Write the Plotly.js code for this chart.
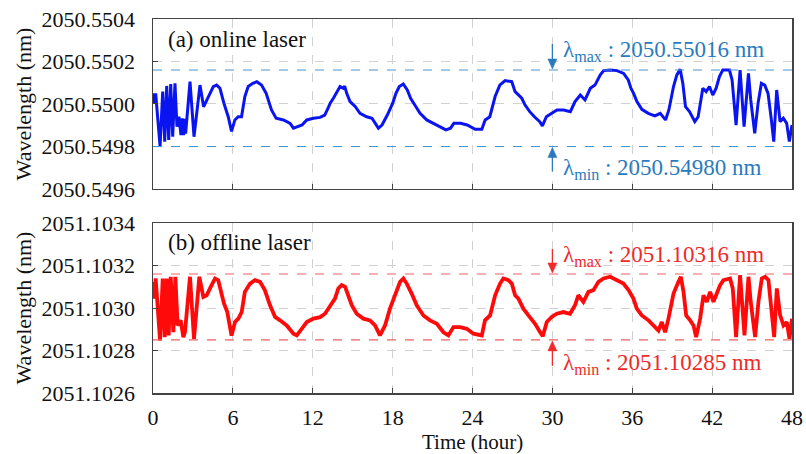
<!DOCTYPE html>
<html>
<head>
<meta charset="utf-8">
<script src="https://cdn.plot.ly/plotly-3.0.1.min.js"></script>
<style>html,body{margin:0;padding:0;background:#fff;font-family:"Liberation Serif","Times New Roman","DejaVu Serif",serif;}#chart{width:806px;height:454px;}</style>
</head>
<body>
<div id="chart"></div>
<script>
// ---- data ----
const onlineTime = [0.0,0.1,0.2,0.53,0.73,0.88,1.03,1.18,1.33,1.48,1.65,1.8,1.95,2.1,2.2,2.3,2.4,2.45,2.78,3.08,3.53,3.8,4.05,4.28,4.53,4.78,5.03,5.33,5.65,5.9,6.15,6.4,6.65,6.9,7.15,7.5,7.8,8.15,8.5,8.9,9.25,9.8,10.3,10.55,10.9,11.2,11.55,12.05,12.55,12.9,13.15,13.3,13.55,13.8,14.05,14.3,14.4,14.55,14.8,15.2,15.55,16.05,16.45,16.7,16.93,17.2,17.6,18.0,18.25,18.5,18.8,19.1,19.35,19.75,20.06,20.56,21.06,21.6,22.0,22.35,22.6,23.1,23.6,24.2,24.7,24.95,25.3,25.7,26.05,26.45,26.95,27.2,27.45,27.7,27.95,28.3,28.65,29.05,29.25,29.55,29.95,30.35,30.85,31.35,31.7,32.1,32.45,32.85,33.2,33.6,33.85,34.35,34.85,35.35,35.7,35.9,36.1,36.35,36.72,37.2,37.7,38.1,38.5,38.75,39.1,39.35,39.6,39.8,40.0,40.3,40.7,40.95,41.2,41.3,41.55,41.8,42.05,42.3,42.55,42.8,43.3,43.5,43.8,44.1,44.4,44.73,44.9,45.2,45.45,45.7,45.95,46.2,46.45,46.63,46.85,47.1,47.35,47.6,47.8,48.0];
const onlineWavelength = [2050.55005,2050.550003,2050.55005,2050.549802,2050.550058,2050.549823,2050.550085,2050.549831,2050.550094,2050.549846,2050.550097,2050.549893,2050.54994,2050.549854,2050.549932,2050.549854,2050.54993,2050.54986,2050.550105,2050.549846,2050.550089,2050.549987,2050.550019,2050.55005,2050.550082,2050.550089,2050.550074,2050.550003,2050.54994,2050.549871,2050.549925,2050.54994,2050.54994,2050.550035,2050.550082,2050.550097,2050.550105,2050.550089,2050.55005,2050.549972,2050.549933,2050.549925,2050.549909,2050.549886,2050.549893,2050.549901,2050.549925,2050.549933,2050.549937,2050.549948,2050.54998,2050.550003,2050.550027,2050.550058,2050.550082,2050.550074,2050.550084,2050.55005,2050.550011,2050.549987,2050.549956,2050.54994,2050.549933,2050.549909,2050.549886,2050.549901,2050.549948,2050.550003,2050.55005,2050.550082,2050.550094,2050.550066,2050.550027,2050.549987,2050.549956,2050.549925,2050.549909,2050.549893,2050.549878,2050.549886,2050.549909,2050.549909,2050.549901,2050.549881,2050.549881,2050.549925,2050.54994,2050.550035,2050.550089,2050.55011,2050.550105,2050.550058,2050.550042,2050.550027,2050.549995,2050.549964,2050.54994,2050.549917,2050.549897,2050.54994,2050.549956,2050.549972,2050.549972,2050.549964,2050.550011,2050.550042,2050.550019,2050.550074,2050.550089,2050.550137,2050.550157,2050.55016,2050.550157,2050.550144,2050.550113,2050.550074,2050.55005,2050.550011,2050.549975,2050.549956,2050.549944,2050.549956,2050.549925,2050.549972,2050.550082,2050.550137,2050.550163,2050.550097,2050.549987,2050.549964,2050.549917,2050.54994,2050.550035,2050.550074,2050.550058,2050.550082,2050.550042,2050.550074,2050.550129,2050.55016,2050.55016,2050.550113,2050.549901,2050.55016,2050.549893,2050.550144,2050.550019,2050.549862,2050.550003,2050.550097,2050.550089,2050.55005,2050.549925,2050.549823,2050.550066,2050.549917,2050.549933,2050.549909,2050.549823,2050.549901];

const offlineTime = [0.0,0.1,0.2,0.53,0.73,0.88,1.03,1.18,1.33,1.53,1.68,1.85,2.08,2.28,2.4,2.78,3.08,3.48,3.78,4.03,4.28,4.66,4.9,5.16,5.33,5.58,5.9,6.16,6.41,6.66,6.9,7.29,7.66,8.04,8.4,8.79,9.17,9.54,10.04,10.55,10.8,11.17,11.55,12.05,12.55,12.92,13.3,13.67,13.92,14.17,14.43,14.68,14.93,15.3,15.8,16.3,16.68,17.05,17.43,17.8,18.18,18.56,18.81,19.06,19.43,19.81,20.31,20.81,21.32,21.82,22.19,22.57,23.07,23.57,24.07,24.7,24.94,25.32,25.7,26.07,26.32,26.7,26.95,27.2,27.45,27.82,28.2,28.7,29.08,29.28,29.58,29.95,30.33,30.83,31.33,31.7,31.95,32.33,32.71,33.08,33.46,33.84,34.34,34.84,35.34,35.72,36.09,36.34,36.72,37.22,37.72,37.97,38.22,38.47,38.72,39.1,39.47,39.65,39.85,40.05,40.35,40.6,40.8,41.1,41.35,41.6,41.85,42.1,42.35,42.6,42.85,43.35,43.55,43.8,44.1,44.43,44.73,44.9,45.23,45.48,45.73,45.98,46.23,46.48,46.66,46.86,47.11,47.36,47.61,47.81,48.0];
const offlineWavelength = [2051.103123,2051.103044,2051.103139,2051.102847,2051.103139,2051.102863,2051.103139,2051.102871,2051.103147,2051.102886,2051.103147,2051.102918,2051.102942,2051.102863,2051.102886,2051.103147,2051.102855,2051.103147,2051.103052,2051.10306,2051.103092,2051.103139,2051.103131,2051.10306,2051.103021,2051.102981,2051.10287,2051.102934,2051.10295,2051.102981,2051.103076,2051.103115,2051.103131,2051.103123,2051.103084,2051.103013,2051.102958,2051.102942,2051.102918,2051.102879,2051.102871,2051.102902,2051.102934,2051.10295,2051.102957,2051.102973,2051.103013,2051.103044,2051.103092,2051.103108,2051.1031,2051.10306,2051.103013,2051.102973,2051.10295,2051.102942,2051.102918,2051.102871,2051.102918,2051.102997,2051.10306,2051.103123,2051.103139,2051.103115,2051.103068,2051.103013,2051.102965,2051.102942,2051.102926,2051.102886,2051.102871,2051.10291,2051.10291,2051.102902,2051.102879,2051.102871,2051.102942,2051.102965,2051.10306,2051.103115,2051.103139,2051.103131,2051.103115,2051.10306,2051.103044,2051.102997,2051.102965,2051.102926,2051.102886,2051.102867,2051.102934,2051.102958,2051.102973,2051.102981,2051.102973,2051.103013,2051.10306,2051.103029,2051.103076,2051.103084,2051.103123,2051.103139,2051.103147,2051.103131,2051.103115,2051.103084,2051.103044,2051.102997,2051.102965,2051.102942,2051.10291,2051.102894,2051.102934,2051.102886,2051.10295,2051.103068,2051.103123,2051.103147,2051.103076,2051.102965,2051.102942,2051.102918,2051.102863,2051.10295,2051.10306,2051.103029,2051.103076,2051.103029,2051.103068,2051.103108,2051.103131,2051.103139,2051.103092,2051.102863,2051.103155,2051.102871,2051.103147,2051.103029,2051.102863,2051.103029,2051.103139,2051.103147,2051.103131,2051.102997,2051.102863,2051.103092,2051.102965,2051.102918,2051.102934,2051.102855,2051.10295];

const onlineExtremes = [2050.55016, 2050.54980];   // [max, min]
const offlineExtremes = [2051.10316, 2051.10285];  // [max, min]
const onlineExtremeLabels = ['2050.55016', '2050.54980'];
const offlineExtremeLabels = ['2051.10316', '2051.10285'];

const timeTicks = [0, 6, 12, 18, 24, 30, 36, 42, 48];
const onlineTicks = [2050.5496, 2050.5498, 2050.5500, 2050.5502, 2050.5504];
const onlineTickLabels = ['2050.5496', '2050.5498', '2050.5500', '2050.5502', '2050.5504'];
const offlineTicks = [2051.1026, 2051.1028, 2051.1030, 2051.1032, 2051.1034];
const offlineTickLabels = ['2051.1026', '2051.1028', '2051.1030', '2051.1032', '2051.1034'];
const panelLabels = ['(a) online laser', '(b) offline laser'];
const xTitle = 'Time (hour)';
const yTitle = 'Wavelength (nm)';
const arrowTime = 30;

// ---- styling ----
const FONT = '"Liberation Serif", "Times New Roman", Times, "DejaVu Serif", serif';
const BLUE_LINE = '#0a14f0';
const BLUE_TXT = '#2a7bbd';
const BLUE_DASH = '#4a94cf';
const RED_LINE = '#ff0a0a';
const RED_TXT = '#ee2a2a';
const RED_DASH = '#f06060';
const FRAME = '#444444';
const GRID = '#d2d2d2';

const traces = [
  {x: onlineTime, y: onlineWavelength, xaxis: 'x2', yaxis: 'y', type: 'scatter', mode: 'lines',
   line: {color: BLUE_LINE, width: 3}, hoverinfo: 'skip'},
  {x: offlineTime, y: offlineWavelength, xaxis: 'x', yaxis: 'y2', type: 'scatter', mode: 'lines',
   line: {color: RED_LINE, width: 3.8}, hoverinfo: 'skip'}
];

const xCommon = {
  range: [0, 48], tickvals: timeTicks, ticktext: timeTicks.map(String),
  showline: true, linecolor: FRAME, linewidth: 1.5, mirror: true,
  ticks: 'inside', ticklen: 5, tickcolor: FRAME,
  showgrid: true, gridcolor: GRID, griddash: 'dash', gridwidth: 1,
  zeroline: false, fixedrange: true,
  tickfont: {family: FONT, size: 22, color: '#111'},
  ticklabelstandoff: 4
};
const yCommon = {
  showline: true, linecolor: FRAME, linewidth: 1.5, mirror: true,
  ticks: 'inside', ticklen: 5, tickcolor: FRAME,
  showgrid: true, gridcolor: GRID, griddash: 'dash', gridwidth: 1,
  zeroline: false, fixedrange: true,
  tickfont: {family: FONT, size: 22, color: '#111'},
  ticklabelstandoff: 12
};

function hline(xa, ya, yv, color) {
  return {type: 'line', xref: xa, yref: ya, x0: 0, x1: 48, y0: yv, y1: yv,
          line: {color: color, width: 1.2, dash: 'dash'}};
}
function arrowShapes(xa, ya, yv, dir, len, color) {
  const s = dir;
  return [
    {type: 'line', xref: xa, yref: ya, xsizemode: 'pixel', ysizemode: 'pixel',
     xanchor: arrowTime, yanchor: yv, x0: 0, x1: 0, y0: s * 8, y1: s * len,
     line: {color: color, width: 1.3}},
    {type: 'path', xref: xa, yref: ya, xsizemode: 'pixel', ysizemode: 'pixel',
     xanchor: arrowTime, yanchor: yv,
     path: 'M0,' + (s * 1) + ' L-4.5,' + (s * 11) + ' L4.5,' + (s * 11) + ' Z',
     fillcolor: color, line: {color: color, width: 0.5}}
  ];
}

const shapes = [
  hline('x2', 'y', onlineExtremes[0], BLUE_DASH),
  hline('x2', 'y', onlineExtremes[1], BLUE_DASH),
  hline('x', 'y2', offlineExtremes[0], RED_DASH),
  hline('x', 'y2', offlineExtremes[1], RED_DASH)
].concat(
  arrowShapes('x2', 'y', onlineExtremes[0], 1, 26, BLUE_TXT),
  arrowShapes('x2', 'y', onlineExtremes[1], -1, 25, BLUE_TXT),
  arrowShapes('x', 'y2', offlineExtremes[0], 1, 25, RED_TXT),
  arrowShapes('x', 'y2', offlineExtremes[1], -1, 26, RED_TXT)
);

function label(xa, ya, yv, sub, val, yshift, color) {
  return {xref: xa, yref: ya, x: arrowTime, y: yv, xanchor: 'left', yanchor: 'middle',
          xshift: 9, yshift: yshift, showarrow: false,
          text: 'λ<sub>' + sub + '</sub> : ' + val + ' nm',
          font: {family: FONT, size: 23, color: color}};
}

const annotations = [
  label('x2', 'y', onlineExtremes[0], 'max', onlineExtremeLabels[0], 19, BLUE_TXT),
  label('x2', 'y', onlineExtremes[1], 'min', onlineExtremeLabels[1], -23, BLUE_TXT),
  label('x', 'y2', offlineExtremes[0], 'max', offlineExtremeLabels[0], 18, RED_TXT),
  label('x', 'y2', offlineExtremes[1], 'min', offlineExtremeLabels[1], -24, RED_TXT),
  {xref: 'x2 domain', yref: 'y domain', x: 0.02, y: 0.88, xanchor: 'left', yanchor: 'middle',
   showarrow: false, text: panelLabels[0], font: {family: FONT, size: 23, color: '#111'}},
  {xref: 'x domain', yref: 'y2 domain', x: 0.02, y: 0.885, xanchor: 'left', yanchor: 'middle',
   showarrow: false, text: panelLabels[1], font: {family: FONT, size: 23, color: '#111'}},
  {xref: 'paper', yref: 'paper', x: 0.5, y: -0.131, xanchor: 'center', yanchor: 'middle',
   showarrow: false, text: xTitle, font: {family: FONT, size: 21, color: '#111'}}
];

const layout = {
  width: 806, height: 454,
  margin: {l: 153, r: 14, t: 19, b: 61},
  paper_bgcolor: '#fff', plot_bgcolor: '#fff',
  showlegend: false,
  font: {family: FONT, color: '#111'},
  xaxis: Object.assign({}, xCommon, {domain: [0, 1], anchor: 'y2'}),
  xaxis2: Object.assign({}, xCommon, {domain: [0, 1], anchor: 'y', showticklabels: false}),
  yaxis: Object.assign({}, yCommon, {domain: [0.5455, 1], anchor: 'x2', range: [2050.5496, 2050.5504],
    tickvals: onlineTicks, ticktext: onlineTickLabels,
    title: {text: yTitle, font: {family: FONT, size: 22, color: '#111'}, standoff: 4}}),
  yaxis2: Object.assign({}, yCommon, {domain: [0, 0.4545], anchor: 'x', range: [2051.1026, 2051.1034],
    tickvals: offlineTicks, ticktext: offlineTickLabels,
    title: {text: yTitle, font: {family: FONT, size: 22, color: '#111'}, standoff: 4}}),
  shapes: shapes,
  annotations: annotations
};

Plotly.newPlot('chart', traces, layout, {staticPlot: true, displayModeBar: false});
</script>
</body>
</html>
